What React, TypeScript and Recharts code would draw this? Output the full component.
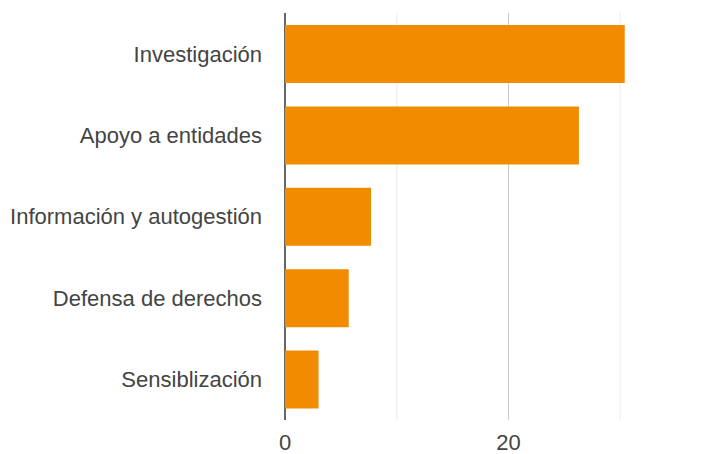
import { BarChart, Bar, XAxis, YAxis, CartesianGrid } from "recharts";

const categories = [
  "Investigación",
  "Apoyo a entidades",
  "Información y autogestión",
  "Defensa de derechos",
  "Sensiblización",
];
const values = [30.4, 26.3, 7.7, 5.7, 3.0];
const xTicks = [0, 10, 20, 30, 40];
const labelledTicks = [0, 20];

const gridColors = ["#333333", "#ebebeb", "#cccccc", "#ebebeb", "#ebebeb"];

const data = categories.map((name, i) => ({ name, value: values[i] }));

const font = { fontFamily: "Arial, 'Liberation Sans', sans-serif", fontSize: 22, fill: "#444" };

function GridLine(props: any) {
  const { x1, y1, x2, y2, index } = props;
  const color = gridColors[index] ?? "#ebebeb";
  return <line x1={x1} y1={y1} x2={x2} y2={y2} stroke={color} strokeWidth={index === 0 ? 1.5 : 1} />;
}

export default function App() {
  return (
    <div
      style={{
        position: "absolute",
        left: 0,
        top: 0,
        width: 726,
        height: 454,
        overflow: "hidden",
        background: "#fff",
      }}
    >
      <BarChart
        width={732}
        height={454}
        data={data}
        layout="vertical"
        margin={{ top: 13, right: 0, bottom: 0, left: 0 }}
      >
        <CartesianGrid horizontal={false} vertical={(p: any) => <GridLine {...p} />} />
        <XAxis
          type="number"
          domain={[0, 40]}
          ticks={xTicks}
          interval={0}
          axisLine={false}
          tickLine={false}
          tickSize={0}
          tickMargin={14}
          height={34}
          tick={font}
          tickFormatter={(v: number) => (labelledTicks.includes(v) ? String(v) : "")}
        />
        <YAxis
          type="category"
          dataKey="name"
          width={285}
          axisLine={false}
          tickLine={false}
          tickSize={0}
          tickMargin={23}
          tick={font}
        />
        <Bar dataKey="value" fill="#f18b00" barSize={58} isAnimationActive={false} />
      </BarChart>
    </div>
  );
}
